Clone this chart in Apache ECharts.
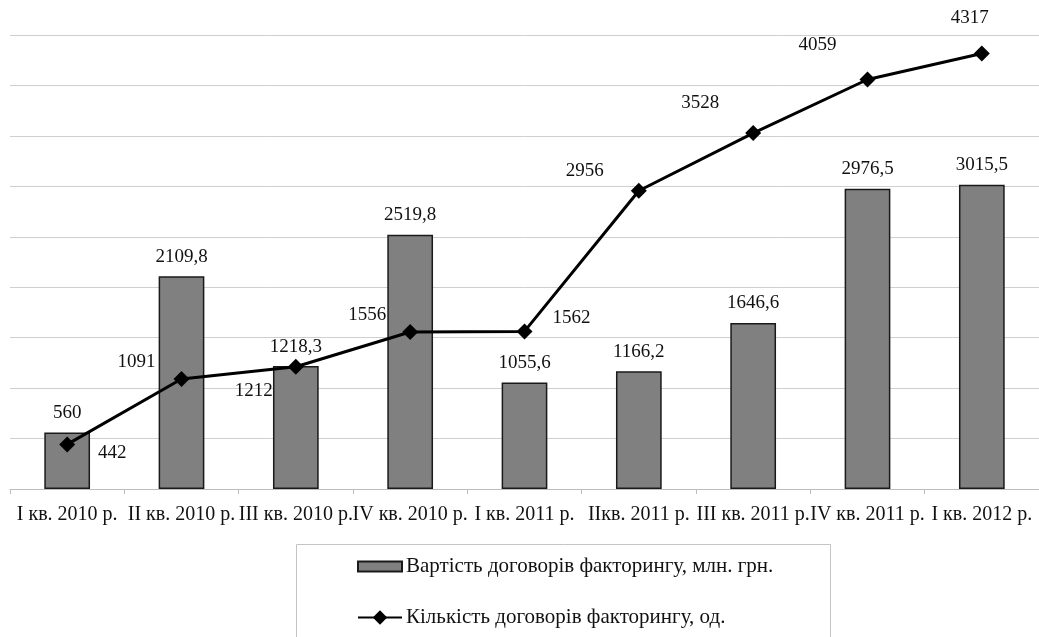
<!DOCTYPE html>
<html>
<head>
<meta charset="utf-8">
<script src="https://cdn.jsdelivr.net/npm/echarts@6/dist/echarts.min.js"></script>
<style>
  html, body { margin: 0; padding: 0; background: #fff; }
  #chart { width: 1039px; height: 637px; }
</style>
</head>
<body>
<div id="chart"></div>
<script>
// Дані діаграми
const quarters = ['I кв. 2010 р.', 'II кв. 2010 р.', 'III кв. 2010 р.', 'IV кв. 2010 р.', 'I кв. 2011 р.', 'IIкв. 2011 р.', 'III кв. 2011 р.', 'IV кв. 2011 р.', 'I кв. 2012 р.']
const contractValue = [560, 2109.8, 1218.3, 2519.8, 1055.6, 1166.2, 1646.6, 2976.5, 3015.5]
const contractCount = [442, 1091, 1212, 1556, 1562, 2956, 3528, 4059, 4317]
const seriesNames = ['Вартість договорів факторингу, млн. грн.', 'Кількість договорів факторингу, од.']

// зсув підписів лінії відносно точки
const countLabelShift = [[45, 9], [-45, -17], [-42, 24], [-43, -17], [47, -13], [-54, -20], [-53, -30], [-50, -34], [-12, -35]]

const font = 'Liberation Serif'
const myChart = echarts.init(document.getElementById('chart'))

const option = {
  animation: false,
  backgroundColor: '#fff',
  textStyle: { fontFamily: font },
  grid: { left: 10, top: 35, width: 1033, bottom: 148, containLabel: false },
  // рамка легенди
  graphic: [
    {
      type: 'rect',
      left: 294,
      top: 542,
      shape: { width: 534, height: 120 },
      style: { fill: 'none', stroke: '#c4c4c4', lineWidth: 1 },
      silent: true,
    },
  ],
  legend: {
    orient: 'vertical',
    left: 357,
    top: 556,
    padding: 0,
    itemGap: 30,
    itemWidth: 44,
    itemHeight: 18,
    textStyle: { fontFamily: font, fontSize: 21, color: '#111', padding: [0, 0, 0, -1] },
    data: [
      { name: seriesNames[0], icon: 'path://M0,2H44V12H0Z' },
      { name: seriesNames[1] },
    ],
  },
  xAxis: {
    type: 'category',
    data: quarters,
    boundaryGap: true,
    axisLine: { lineStyle: { color: '#bdbdbd', width: 1 } },
    axisTick: { show: true, length: 5, lineStyle: { color: '#bdbdbd' } },
    axisLabel: { fontFamily: font, fontSize: 20, color: '#111', margin: 16, interval: 0 },
  },
  yAxis: {
    type: 'value',
    min: 0,
    max: 4500,
    interval: 500,
    axisLabel: { show: false },
    axisLine: { show: false },
    axisTick: { show: false },
    splitLine: { lineStyle: { color: '#cfcfcf', width: 1 } },
  },
  series: [
    {
      name: seriesNames[0],
      type: 'bar',
      data: contractValue,
      barWidth: '40%',
      itemStyle: { color: '#808080', borderColor: '#1a1a1a', borderWidth: 1.5 },
      label: {
        show: true,
        position: 'top',
        distance: 10,
        fontFamily: font,
        fontSize: 19,
        color: '#111',
        formatter: (p) => String(p.value).replace('.', ','),
      },
      z: 2,
    },
    {
      name: seriesNames[1],
      type: 'line',
      data: contractCount.map((v, i) => ({
        value: v,
        label: { offset: countLabelShift[i] },
      })),
      symbol: 'diamond',
      symbolSize: 16,
      color: '#000',
      lineStyle: { color: '#000', width: 3 },
      itemStyle: { color: '#000' },
      label: {
        show: true,
        position: 'inside',
        fontFamily: font,
        fontSize: 19,
        color: '#111',
      },
      z: 3,
    },
  ],
}
myChart.setOption(option)
window.addEventListener('resize', () => myChart.resize())
</script>
</body>
</html>
